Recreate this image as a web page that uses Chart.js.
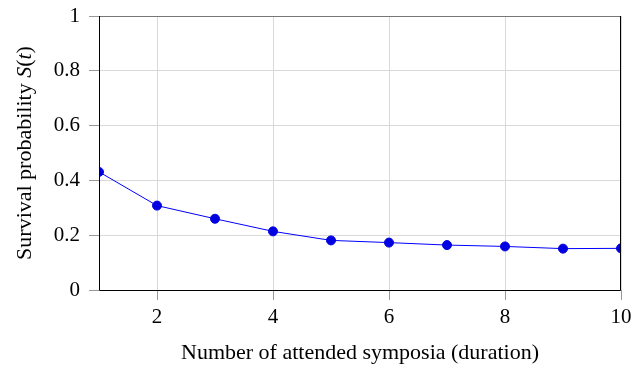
<!DOCTYPE html>
<html>
<head>
<meta charset="utf-8">
<script src="https://cdn.jsdelivr.net/npm/chart.js@4.4.0/dist/chart.umd.min.js"></script>
<style>
  html, body { margin: 0; padding: 0; background: #fff; }
  #wrap { width: 631px; height: 367px; }
</style>
</head>
<body>
<div id="wrap"><canvas id="survival"></canvas></div>
<script>
// duration (number of attended symposia) and survival probability S(t)
const durations = [1, 2, 3, 4, 5, 6, 7, 8, 9, 10];
const survival = [0.431, 0.308, 0.260, 0.214, 0.181, 0.173, 0.164, 0.159, 0.151, 0.152];
const xTicks = [2, 4, 6, 8, 10];
const yTicks = [0, 0.2, 0.4, 0.6, 0.8, 1];

const serif = "'Liberation Serif', 'DejaVu Serif', serif";
const gridGray = '#d9d9d9';

// frame around the plot + y title with italic S and t
const frame = {
  id: 'frame',
  afterDraw(chart) {
    const { ctx, chartArea: a } = chart;
    ctx.save();
    ctx.lineWidth = 1;
    ctx.strokeStyle = '#777';
    ctx.beginPath();
    ctx.moveTo(a.left, a.top + 0.5);
    ctx.lineTo(a.right, a.top + 0.5);
    ctx.stroke();
    ctx.strokeStyle = '#000';
    ctx.beginPath();
    ctx.moveTo(a.left + 0.5, a.top);
    ctx.lineTo(a.left + 0.5, a.bottom + 0.5);
    ctx.lineTo(a.right - 0.5, a.bottom + 0.5);
    ctx.lineTo(a.right - 0.5, a.top);
    ctx.stroke();

    const parts = [
      ['Survival probability ', '22px ' + serif],
      ['S', 'italic 22px ' + serif],
      ['(', '22px ' + serif],
      ['t', 'italic 22px ' + serif],
      [')', '22px ' + serif]
    ];
    let total = 0;
    parts.forEach(p => { ctx.font = p[1]; total += ctx.measureText(p[0]).width; });
    ctx.translate(25, (a.top + a.bottom) / 2);
    ctx.rotate(-Math.PI / 2);
    ctx.fillStyle = '#000';
    ctx.textBaseline = 'middle';
    let x = -total / 2;
    parts.forEach(p => {
      ctx.font = p[1];
      ctx.fillText(p[0], x, 0);
      x += ctx.measureText(p[0]).width;
    });
    ctx.restore();
  }
};

new Chart(document.getElementById('survival'), {
  type: 'line',
  data: {
    datasets: [{
      data: durations.map((d, i) => ({ x: d, y: survival[i] })),
      borderColor: '#0000ff',
      backgroundColor: '#0000e0',
      pointBorderColor: '#0000e0',
      borderWidth: 1,
      pointRadius: 4.5,
      pointHoverRadius: 4.5,
      tension: 0
    }]
  },
  options: {
    responsive: true,
    maintainAspectRatio: false,
    animation: false,
    layout: { padding: { top: 16, right: 10, left: 0, bottom: 0 } },
    plugins: { legend: { display: false }, tooltip: { enabled: false } },
    scales: {
      x: {
        type: 'linear',
        min: 1,
        max: 10,
        afterBuildTicks: s => { s.ticks = xTicks.map(v => ({ value: v })); },
        afterFit: s => { s.height = 77; s.paddingLeft = 0; s.paddingRight = 0; },
        border: { display: false },
        grid: { color: gridGray, tickColor: '#999', tickLength: 10 },
        ticks: {
          color: '#000', font: { family: serif, size: 21 }, padding: 5, maxRotation: 0,
          callback: v => String(v)
        },
        title: {
          display: true,
          text: 'Number of attended symposia (duration)',
          color: '#000',
          font: { family: serif, size: 22 },
          padding: { top: 0, bottom: 1 }
        }
      },
      y: {
        min: 0,
        max: 1,
        afterBuildTicks: s => { s.ticks = yTicks.map(v => ({ value: v })); },
        afterFit: s => { s.width = 99; s.paddingTop = 0; s.paddingBottom = 0; },
        border: { display: false },
        grid: { color: gridGray, tickColor: '#999', tickLength: 10 },
        ticks: {
          color: '#000', font: { family: serif, size: 21 }, padding: 9,
          callback: v => String(v)
        }
      }
    }
  },
  plugins: [frame]
});
</script>
</body>
</html>
